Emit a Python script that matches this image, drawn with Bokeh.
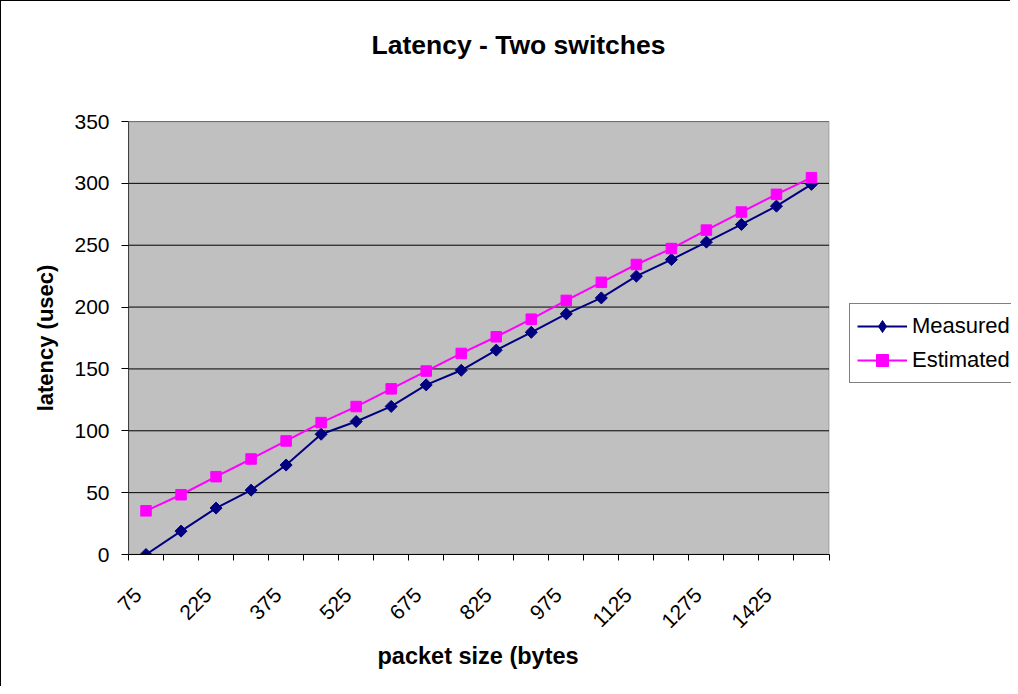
import math
from bokeh.plotting import figure
from bokeh.models import (Range1d, FixedTicker, Legend, LegendItem, LinearAxis,
                          ColumnDataSource, BoxAnnotation, Title)
from bokeh.embed import file_html
from bokeh.resources import INLINE

# ---- data ----
packet_sizes = [75, 150, 225, 300, 375, 450, 525, 600, 675, 750,
                825, 900, 975, 1050, 1125, 1200, 1275, 1350, 1425, 1500]
measured = [0.0, 18.9, 37.5, 52.0, 72.3, 97.2, 107.5, 119.7, 137.1, 148.9,
            165.2, 179.6, 194.5, 207.4, 225.0, 238.4, 252.5, 266.8, 281.6, 299.2]
estimated = [35.3, 48.3, 62.9, 77.2, 91.8, 106.6, 119.6, 133.9, 148.3, 162.5,
             176.0, 190.2, 205.4, 220.0, 234.4, 247.3, 262.2, 276.8, 291.1, 304.6]
y_ticks = [0, 50, 100, 150, 200, 250, 300, 350]
series_names = ["Measured", "Estimated"]
title_text = "Latency - Two switches"
x_label = "packet size (bytes"
y_label = "latency (usec)"

FONT = "Liberation Sans"
NAVY = "#000080"
MAGENTA = "#FF00FF"
n = len(packet_sizes)
xs = list(range(1, n + 1))
x_lo, x_hi = 0.5, n + 0.5
y_lo, y_hi = y_ticks[0], y_ticks[-1]

# layout (pixels)
W, H = 1010, 686
BORDER_L, BORDER_T, BORDER_B = 127, 120, 133
PLOT_W = 700.5                      # width of the grey plot area
frame_w = W - BORDER_L              # frame runs to the right edge (legend lives there)
x_end = x_lo + (x_hi - x_lo) * frame_w / PLOT_W

label_shift = 0.23  # Excel draws rotated labels slightly left of the category centre
label_pos = [x - label_shift for x in xs]

p = figure(width=W, height=H, output_backend="svg", toolbar_location=None,
           x_range=Range1d(x_lo, x_end), y_range=Range1d(y_lo, y_hi),
           min_border_left=BORDER_L, min_border_right=0,
           min_border_top=BORDER_T, min_border_bottom=BORDER_B,
           background_fill_color="white", border_fill_color="white")
p.styles = {"border-left": "1px solid black", "border-top": "1px solid black"}
p.outline_line_color = None

xaxis = p.below[0]
yaxis = p.left[0]

# grey plot area with grey border (top/right visible)
p.add_layout(BoxAnnotation(left=x_lo, right=x_hi, bottom=y_lo, top=y_hi,
                           fill_color="#C0C0C0", fill_alpha=1.0,
                           line_color="#808080", line_width=2, level="underlay"))

# horizontal grid lines limited to the plot area
p.segment(x0=[x_lo] * len(y_ticks), x1=[x_hi] * len(y_ticks), y0=y_ticks, y1=y_ticks,
          line_color="black", line_width=1)

# x axis: category ticks at boundaries, labels at centres (every other one)
xaxis.bounds = (x_lo, x_hi)
xaxis.ticker = FixedTicker(ticks=label_pos, minor_ticks=[i + 0.5 for i in range(n + 1)])
xaxis.major_label_overrides = {x: (str(s) if i % 2 == 0 else "")
                               for i, (x, s) in enumerate(zip(label_pos, packet_sizes))}
xaxis.major_tick_line_color = None
xaxis.major_tick_out = 6
xaxis.major_tick_in = 0
xaxis.minor_tick_line_color = "black"
xaxis.minor_tick_out = 6
xaxis.minor_tick_in = 0
xaxis.axis_line_color = "black"
xaxis.major_label_orientation = math.pi / 4
xaxis.major_label_text_font = FONT
xaxis.major_label_text_font_size = "21px"
xaxis.major_label_text_color = "black"
xaxis.major_label_standoff = 31

# y axis
yaxis.ticker = FixedTicker(ticks=y_ticks)
yaxis.major_tick_out = 7
yaxis.major_tick_in = 0
yaxis.minor_tick_line_color = None
yaxis.major_tick_line_color = "black"
yaxis.axis_line_color = "#404040"
yaxis.major_label_text_font = FONT
yaxis.major_label_text_font_size = "21px"
yaxis.major_label_text_color = "black"
yaxis.major_label_standoff = 12
yaxis.axis_label = y_label
yaxis.axis_label_text_font = FONT
yaxis.axis_label_text_font_size = "22px"
yaxis.axis_label_text_font_style = "bold"
yaxis.axis_label_text_color = "black"
yaxis.axis_label_standoff = 13

p.xgrid.grid_line_color = None
p.ygrid.grid_line_color = None

# x-axis title, centred under the grey plot area (not the whole frame)
p.add_layout(Title(text=x_label, align="left", offset=249, standoff=6,
                   text_font=FONT, text_font_size="23.5px", text_font_style="bold",
                   text_color="black"), "below")

# invisible spacer between the chart title and the plot area
top_spacer = LinearAxis(ticker=FixedTicker(ticks=[1]), axis_line_color=None,
                        major_tick_line_color=None, minor_tick_line_color=None,
                        major_tick_out=57, major_tick_in=0, minor_tick_out=0,
                        minor_tick_in=0, major_label_standoff=0,
                        major_label_overrides={1: ""},
                        major_label_text_font_size="0px")
p.add_layout(top_spacer, "above")
p.add_layout(Title(text=title_text, align="left", offset=243,
                   text_font=FONT, text_font_size="26.5px", text_font_style="bold",
                   text_color="black"), "above")

src = ColumnDataSource(dict(x=xs, measured=measured, estimated=estimated))
l1 = p.line("x", "measured", source=src, line_color=NAVY, line_width=2)
m1 = p.scatter("x", "measured", source=src, marker="square", angle=math.pi / 4,
               size=8.5, fill_color=NAVY, line_color=NAVY)
l2 = p.line("x", "estimated", source=src, line_color=MAGENTA, line_width=2)
m2 = p.scatter("x", "estimated", source=src, marker="square", size=10.5,
               fill_color=MAGENTA, line_color=MAGENTA)
# legend-only diamond glyph (legend markers are never rotated); nothing is drawn
nan_src = ColumnDataSource(dict(x=[float("nan")], y=[float("nan")]))
leg_diamond = p.scatter("x", "y", source=nan_src, marker="diamond", size=13,
                        fill_color=NAVY, line_color=NAVY)

legend = Legend(items=[LegendItem(label=series_names[0], renderers=[l1, leg_diamond]),
                       LegendItem(label=series_names[1], renderers=[l2, m2])],
                location=(721, 171),
                label_text_font=FONT, label_text_font_size="22px",
                label_text_color="black",
                glyph_width=50, glyph_height=30, label_height=30, label_width=120,
                label_standoff=5, spacing=4, padding=7, margin=0,
                border_line_color="black", border_line_width=1,
                background_fill_color="white", background_fill_alpha=1.0)
p.add_layout(legend)

open("out.html", "w").write(file_html(p, INLINE))
